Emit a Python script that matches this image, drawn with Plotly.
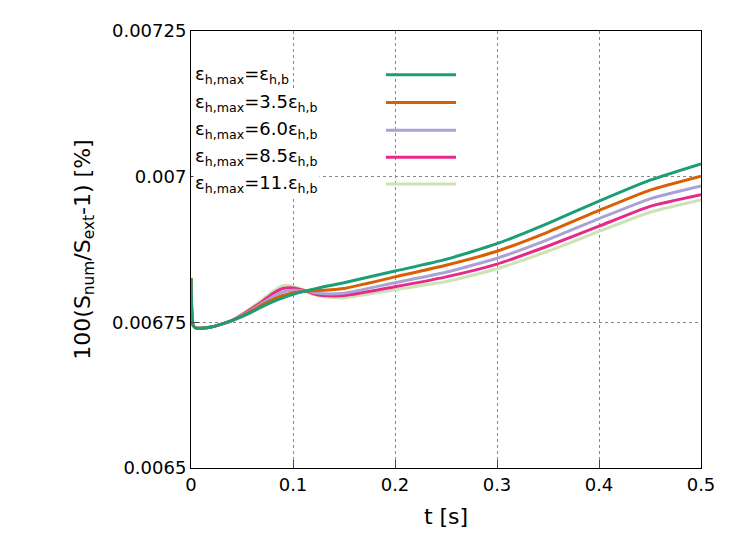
import plotly.graph_objects as go

t = [0, 0.002, 0.005, 0.01, 0.02, 0.03, 0.04, 0.05, 0.06, 0.07, 0.08, 0.09, 0.1, 0.11, 0.12, 0.13, 0.15, 0.2, 0.25, 0.3, 0.35, 0.4, 0.45, 0.5]
early = [0.006826, 0.006745, 0.00674, 0.00674, 0.006742, 0.006747, 0.006753]
s1 = early + [0.00676, 0.006768, 0.006777, 0.006785, 0.006792, 0.006798, 0.006803, 0.006807, 0.006811, 0.006818, 0.006838, 0.006858, 0.006885, 0.00692, 0.006958, 0.006994, 0.007022]
s2 = early + [0.006761, 0.00677, 0.00678, 0.006789, 0.006796, 0.006801, 0.006803, 0.006804, 0.006805, 0.006808, 0.006828, 0.006848, 0.006872, 0.006905, 0.006942, 0.006977, 0.007001]
s3 = early + [0.006762, 0.006772, 0.006783, 0.006794, 0.006802, 0.006805, 0.006804, 0.006801, 0.006799, 0.0068, 0.006818, 0.006836, 0.00686, 0.006892, 0.006928, 0.006962, 0.006984]
s4 = early + [0.006763, 0.006774, 0.006786, 0.006799, 0.006808, 0.006809, 0.006805, 0.006799, 0.006796, 0.006796, 0.006811, 0.006828, 0.00685, 0.006881, 0.006915, 0.006949, 0.006969]
s5 = early + [0.006764, 0.006776, 0.006789, 0.006803, 0.006813, 0.006812, 0.006806, 0.006798, 0.006794, 0.006792, 0.006806, 0.00682, 0.006842, 0.006872, 0.006906, 0.006939, 0.00696]
names = ["ε<sub>h,max</sub>=ε<sub>h,b</sub>", "ε<sub>h,max</sub>=3.5ε<sub>h,b</sub>", "ε<sub>h,max</sub>=6.0ε<sub>h,b</sub>",
         "ε<sub>h,max</sub>=8.5ε<sub>h,b</sub>", "ε<sub>h,max</sub>=11.ε<sub>h,b</sub>"]
colors = ["#1b9e77", "#d95f02", "#a9a3d3", "#e7298a", "#cce3b5"]
series = [s1, s2, s3, s4, s5]

fig = go.Figure()
for i in reversed(range(5)):
    fig.add_trace(go.Scatter(x=t, y=series[i], mode="lines", line=dict(color=colors[i], width=3, shape="spline", smoothing=0.5), showlegend=False))

W, H = 747, 558
L, R, T, B = 183, 54, 20, 98
pw, ph = W - L - R, H - T - B
TT = 28
rows = [72, 100, 128, 155, 182]
for i in range(5):
    yp = 1 - (rows[i] - TT) / 440
    fig.add_annotation(x=(192 - 190) / 510, y=yp, xref="paper", yref="paper", text=names[i], showarrow=False,
                       xanchor="left", yanchor="middle", font=dict(size=18, color="black"), bgcolor="white")
    fig.add_shape(type="line", xref="paper", yref="paper", x0=(385 - 190) / 510, x1=(455 - 190) / 510, y0=yp, y1=yp,
                  line=dict(color=colors[i], width=3))

fig.update_layout(width=W, height=H, margin=dict(l=L, r=R, t=T, b=B), plot_bgcolor="white", paper_bgcolor="white",
                  font=dict(family="DejaVu Sans", size=18, color="black"))
fig.update_xaxes(range=[0, 0.5], tickvals=[0, 0.1, 0.2, 0.3, 0.4, 0.5], ticktext=["0", "0.1", "0.2", "0.3", "0.4", "0.5"],
                 showgrid=True, gridcolor="#888", griddash="dot", gridwidth=1, showline=True, linecolor="black", mirror=True,
                 ticks="inside", ticklen=8, title=dict(text="t [s]"), zeroline=False)
fig.update_yaxes(range=[0.0065, 0.00725], tickvals=[0.0065, 0.00675, 0.007, 0.00725], ticktext=["0.0065", "0.00675", "0.007", "0.00725"],
                 showgrid=True, gridcolor="#888", griddash="dot", gridwidth=1, showline=True, linecolor="black", mirror=True,
                 ticks="inside", ticklen=8, title=dict(text="100(S<sub>num</sub>/S<sub>ext</sub>-1) [%]"), zeroline=False)
fig.write_html("out.html")
